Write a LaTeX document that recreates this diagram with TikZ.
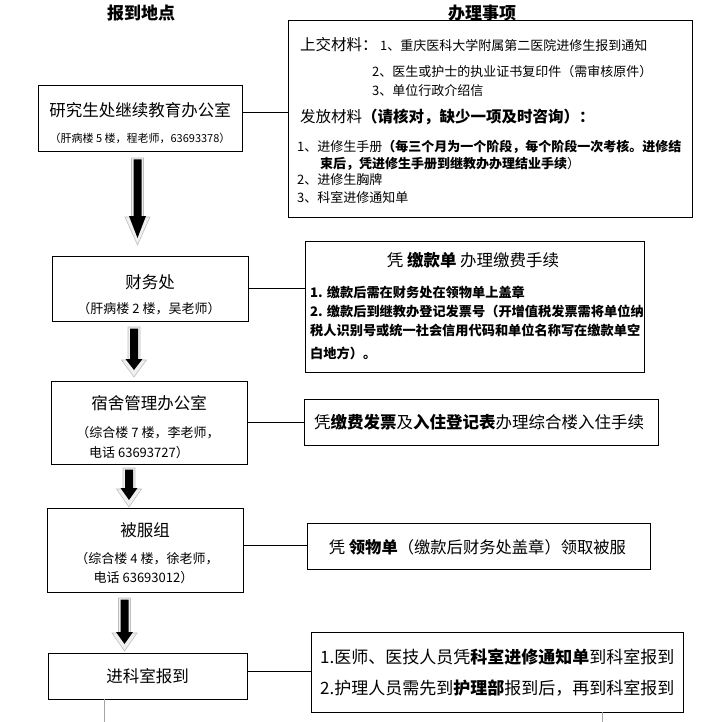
\documentclass[tikz,border=0pt]{standalone}
\usepackage{fontspec}
\setmainfont{Noto Sans CJK SC}
\newcommand{\fsz}[1]{\fontsize{#1}{#1}\selectfont}
% x, top, head start, tip
\newcommand{\flowarrow}[4]{%
  \filldraw[fill=gray!12, draw=gray!50, line width=0.6pt]
    (#1-6,#2) -- (#1+6,#2) -- (#1+6,#3) -- (#1+12.5,#3) -- (#1,#4) -- (#1-12.5,#3) -- (#1-6,#3) -- cycle;
  \fill[black]
    (#1-4,#2+1.5) -- (#1+4,#2+1.5) -- (#1+4,#3-1) -- (#1+8.5,#3-1) -- (#1,#4-7) -- (#1-8.5,#3-1) -- (#1-4,#3-1) -- cycle;
}
\begin{document}
\begin{tikzpicture}[x=1pt, y=-1pt,
  box/.style={draw=black, line width=0.8pt, inner sep=0pt},
  txt/.style={inner sep=0pt},
  link/.style={draw=black, line width=0.8pt}]
\useasboundingbox (0,0) rectangle (707,722);

% headers
\node[txt, anchor=base] (h1) at (141,19.5) {\fsz{17}\bfseries 报到地点};
\node[txt, anchor=base] (h2) at (482,19.5) {\fsz{17}\bfseries 办理事项};

% left boxes
\node[box, minimum width=204pt, minimum height=66pt] (b1) at (140,118) {};
\node[box, minimum width=196pt, minimum height=65pt] (b2) at (150,288.5) {};
\node[box, minimum width=196pt, minimum height=83pt] (b3) at (149,422.5) {};
\node[box, minimum width=196pt, minimum height=84pt] (b4) at (145,550) {};
\node[box, minimum width=199pt, minimum height=46pt] (b5) at (147.5,676) {};

% right boxes
\node[box, minimum width=404pt, minimum height=197pt] (r1) at (490,118.5) {};
\node[box, minimum width=339pt, minimum height=131pt] (r2) at (474.5,306.5) {};
\node[box, minimum width=354pt, minimum height=46pt] (r3) at (481,422) {};
\node[box, minimum width=343pt, minimum height=46pt] (r4) at (478.5,546) {};
\node[box, minimum width=372pt, minimum height=80pt] (r5) at (497,672) {};

% connectors
\draw[link] (b1.east |- 0,112) -- (r1.west |- 0,112);
\draw[link] (b2.east |- 0,288) -- (r2.west |- 0,288);
\draw[link] (b3.east |- 0,422) -- (r3.west |- 0,422);
\draw[link] (b4.east |- 0,545) -- (r4.west |- 0,545);
\draw[link] (b5.east |- 0,671) -- (r5.west |- 0,671);

% cut-off grey lines at bottom
\coordinate (g1) at (104,722);
\coordinate (g2) at (602,722);
\draw[gray!70, line width=0.8pt] (b5.south -| g1) -- (g1);
\draw[gray!70, line width=0.8pt] (r5.south -| g2) -- (g2);

% flow arrows
\flowarrow{137.5}{158}{217}{245}
\flowarrow{134}{327}{360}{377}
\flowarrow{129}{468}{489}{507}
\flowarrow{124.5}{598}{633}{651}

% left box texts
\node[txt, anchor=base] (b1t) at (140,116.3) {\fsz{16.5}研究生处继续教育办公室};
\node[txt, anchor=base] (b1s) at (140,142.2) {\fsz{11}（肝病楼 5 楼，程老师，63693378）};
\node[txt, anchor=base] (b2t) at (150,288.3) {\fsz{16.5}财务处};
\node[txt, anchor=base] (b2s) at (149,313) {\fsz{13}（肝病楼 2 楼，吴老师）};
\node[txt, anchor=base] (b3t) at (149,409.3) {\fsz{16.5}宿舍管理办公室};
\node[txt, anchor=base] (b3s) at (148,437) {\fsz{13}（综合楼 7 楼，李老师，};
\node[txt, anchor=base] (b3u) at (139,457) {\fsz{13}电话 63693727）};
\node[txt, anchor=base] (b4t) at (145,536.3) {\fsz{16.5}被服组};
\node[txt, anchor=base] (b4s) at (147,563) {\fsz{13}（综合楼 4 楼，徐老师，};
\node[txt, anchor=base] (b4u) at (143.5,582) {\fsz{13}电话 63693012）};
\node[txt, anchor=base] (b5t) at (147.5,682.3) {\fsz{16.5}进科室报到};

% r1 texts
\node[txt, anchor=base west] (r1a) at (300,50.5) {\fsz{15.5}上交材料：};
\node[txt, anchor=base west] (r1a1) at (380,50.5) {\fsz{13}1、重庆医科大学附属第二医院进修生报到通知};
\node[txt, anchor=base west] (r1a2) at (372,77) {\fsz{13}2、医生或护士的执业证书复印件（需审核原件）};
\node[txt, anchor=base west] (r1a3) at (372,96) {\fsz{13}3、单位行政介绍信};
\node[txt, anchor=base west] (r1b) at (300,123) {\fsz{15.5}发放材料\textbf{（请核对，缺少一项及时咨询）：}};
\node[txt, anchor=base west] (r1b1) at (297,152) {\fsz{13}1、进修生手册\textbf{（每三个月为一个阶段，每个阶段一次考核。进修结}};
\node[txt, anchor=base west] (r1b1c) at (320,168) {\fsz{13}\textbf{束后，凭进修生手册到继教办办理结业手续}）};
\node[txt, anchor=base west] (r1b2) at (297,185) {\fsz{13}2、进修生胸牌};
\node[txt, anchor=base west] (r1b3) at (297,202) {\fsz{13}3、科室进修通知单};

% r2 texts
\node[txt, anchor=base] (r2t) at (473,266) {\fsz{16.5}凭 \textbf{缴款单} 办理缴费手续};
\node[txt, anchor=base west] (r2a) at (310,297) {\fsz{13.2}\bfseries 1. 缴款后需在财务处在领物单上盖章};
\node[txt, anchor=base west] (r2b) at (310,316) {\fsz{13.2}\bfseries 2. 缴款后到继教办登记发票号（开增值税发票需将单位纳};
\node[txt, anchor=base west] (r2c) at (310,335) {\fsz{13.2}\bfseries 税人识别号或统一社会信用代码和单位名称写在缴款单空};
\node[txt, anchor=base west] (r2d) at (310,358) {\fsz{13.2}\bfseries 白地方）。};

% r3, r4, r5 texts
\node[txt, anchor=base] (r3t) at (479,428) {\fsz{16.5}凭\textbf{缴费发票}及\textbf{入住登记表}办理综合楼入住手续};
\node[txt, anchor=base] (r4t) at (477.5,553) {\fsz{16.3}凭 \textbf{领物单}（缴款后财务处盖章）领取被服};
\node[txt, anchor=base west] (r5a) at (320,663.5) {\fsz{17}1.医师、医技人员凭\textbf{科室进修通知单}到科室报到};
\node[txt, anchor=base west] (r5b) at (320,694.5) {\fsz{17}2.护理人员需先到\textbf{护理部}报到后，再到科室报到};
\end{tikzpicture}
\end{document}
